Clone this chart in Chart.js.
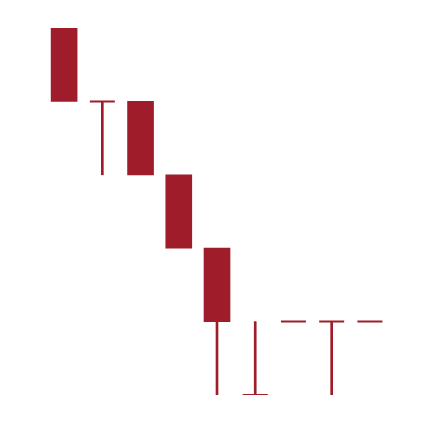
<!DOCTYPE html>
<html>
<head>
<meta charset="utf-8">
<script src="https://cdn.jsdelivr.net/npm/chart.js@4/dist/chart.umd.min.js"></script>
<style>
html,body{margin:0;padding:0;background:#fff;}
#c{display:block;}
</style>
</head>
<body>
<canvas id="c" width="434" height="422"></canvas>
<script>
const categories = ["1","2","3","4","5","6","7","8","9"];
const bodies = [[4,5], null, [3,4], [2,3], [1,2], null, null, null, null];
const wicks  = [null, [3,4], null, null, [0,1], [0,1], null, [0,1], null];
const dojis  = [null, 4, null, null, null, 0, 1, 1, 1];
const color = "#9f1d2a";

new Chart(document.getElementById("c"), {
  data: {
    labels: categories,
    datasets: [
      { type: "bar", data: wicks, backgroundColor: color, barThickness: 2, grouped: false, order: 2 },
      { type: "bar", data: bodies, backgroundColor: color, barThickness: 26, grouped: false, order: 1 },
      { type: "line", data: dojis, showLine: false, pointStyle: "line", pointRadius: 12.5, pointHoverRadius: 12.5,
        borderColor: color, borderWidth: 2, pointBorderWidth: 2, order: 0 }
    ]
  },
  options: {
    responsive: false,
    animation: false,
    events: [],
    layout: { padding: { top: 28, bottom: 27, left: 45, right: 45 } },
    plugins: { legend: { display: false }, tooltip: { enabled: false } },
    scales: {
      x: { type: "category", display: false, offset: true },
      y: { type: "linear", display: false, min: 0, max: 5 }
    }
  }
});
</script>
</body>
</html>
